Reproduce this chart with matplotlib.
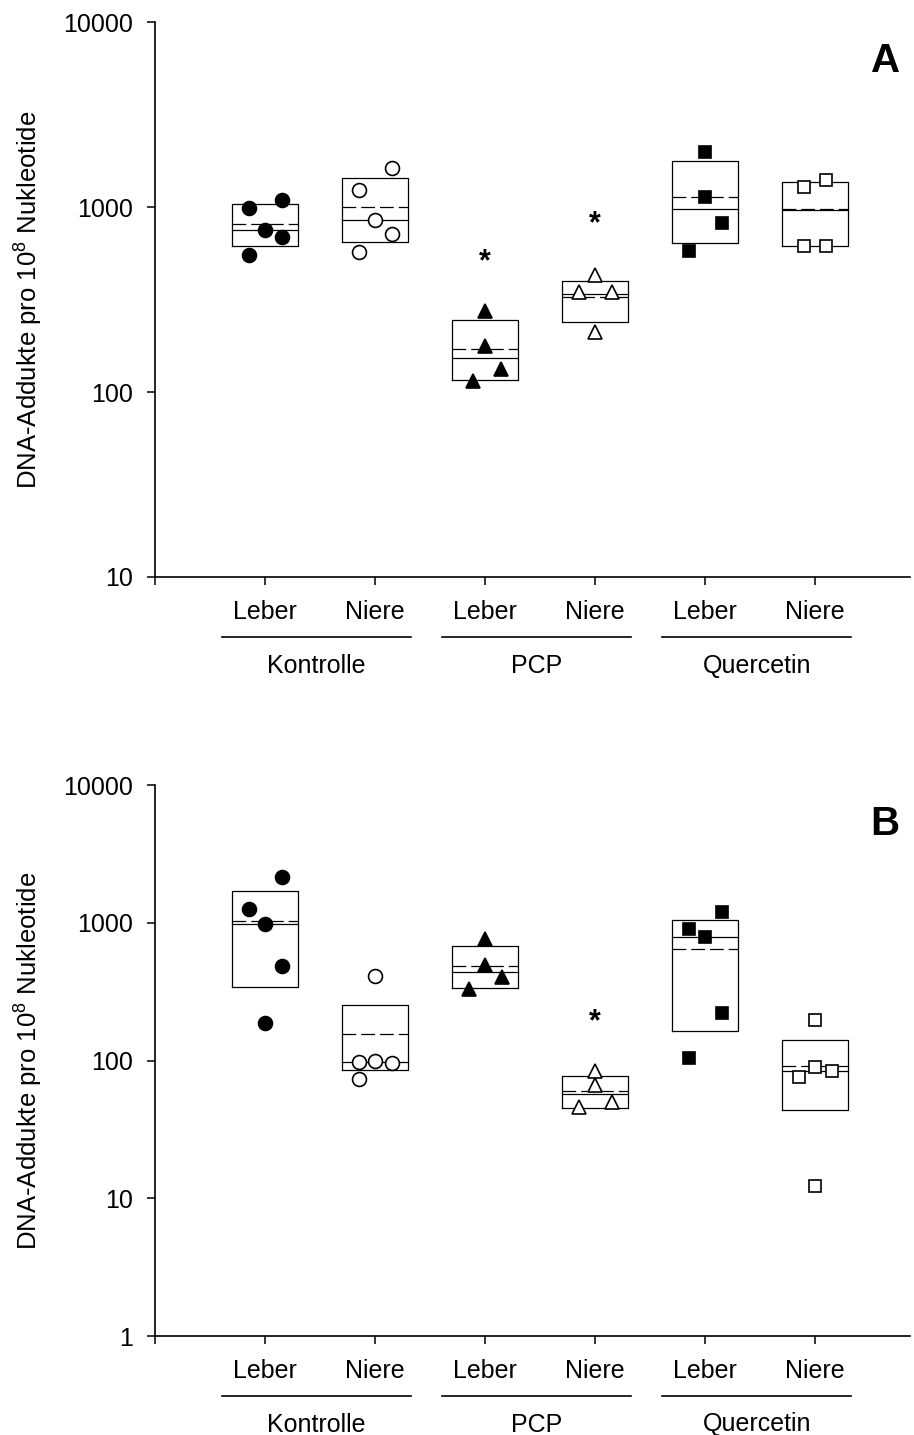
import matplotlib
matplotlib.use("Agg")
import matplotlib.pyplot as plt
from matplotlib.ticker import FixedLocator, FixedFormatter, NullLocator
import matplotlib.transforms as mtransforms

plt.rcParams['font.family'] = ['Liberation Sans', 'DejaVu Sans']
plt.rcParams['mathtext.fontset'] = 'custom'
plt.rcParams['mathtext.rm'] = 'Liberation Sans'
plt.rcParams['mathtext.it'] = 'Liberation Sans:italic'
plt.rcParams['mathtext.bf'] = 'Liberation Sans:bold'

# ---------------- data ----------------
groups = ["Kontrolle", "PCP", "Quercetin"]
organs = ["Leber", "Niere"]
ylabel = "DNA-Addukte pro 10$^{8}$ Nukleotide"

# Panel A: individual values per column (Kontrolle L/N, PCP L/N, Quercetin L/N)
a_values = [
    [990, 1087, 754, 686, 548],
    [1625, 1236, 850, 717, 571],
    [273, 177, 133, 114],
    [427, 349, 349, 212],
    [1990, 1137, 823, 578],
    [1287, 1394, 615, 615],
]
a_jitter = [
    [-0.15, 0.15, 0, 0.15, -0.15],
    [0.15, -0.15, 0, 0.15, -0.15],
    [0, 0, 0.145, -0.105],
    [0, -0.15, 0.15, 0],
    [0, 0, 0.15, -0.15],
    [-0.1, 0.1, -0.1, 0.1],
]
a_q25 = [615, 644, 116, 240, 641, 618]
a_median = [754, 850, 152, 338, 979, 960]
a_mean = [809, 1000, 170, 326, 1128, 975]
a_q75 = [1038, 1430, 244, 398, 1780, 1365]
a_star = [None, None, 553, 886, None, None]

# Panel B
b_values = [
    [2147, 1264, 978, 487, 187],
    [408, 97, 99, 96, 74],
    [762, 491, 402, 333],
    [84, 66, 50, 46],
    [1196, 894, 791, 223, 105],
    [196, 89, 84, 76, 12.2],
]
b_jitter = [
    [0.15, -0.15, 0, 0.15, 0],
    [0, -0.15, 0, 0.15, -0.15],
    [0, 0, 0.15, -0.15],
    [0, 0, 0.15, -0.15],
    [0.15, -0.15, 0, 0.15, -0.15],
    [0, 0, 0.15, -0.15, 0],
]
b_q25 = [339, 85, 337, 45, 165, 44]
b_median = [978, 98, 436, 57, 791, 84]
b_mean = [1022, 156, 482, 60, 644, 91]
b_q75 = [1687, 254, 677, 77, 1046, 142]
b_star = [None, None, None, 218, None, None]

markers = ['o', 'o', '^', '^', 's', 's']
filled = [True, False, True, False, True, False]
msizes = [10, 10, 9.8, 9.8, 8.9, 8.9]

# ---------------- figure ----------------
W, H = 914, 1435
fig = plt.figure(figsize=(W / 100, H / 100), dpi=100)

def make_axes(top_px, bottom_px):
    left = 155 / W
    width = (910 - 155) / W
    bottom = 1 - bottom_px / H
    height = (bottom_px - top_px) / H
    return fig.add_axes([left, bottom, width, height])

axA = make_axes(22, 577)
axB = make_axes(785, 1336)

def draw_panel(ax, values, jitter, q25, med, mean, q75, stars, ylim, yticks, letter):
    ax.set_yscale('log')
    ax.set_ylim(*ylim)
    ax.set_xlim(0, 755 / 110)
    half = 0.3
    star_trans = mtransforms.offset_copy(ax.transData, fig=fig, y=-8, units='dots')
    for i in range(6):
        x = i + 1
        # box
        ax.plot([x - half, x + half, x + half, x - half, x - half],
                [q25[i], q25[i], q75[i], q75[i], q25[i]],
                color='black', lw=0.9, zorder=2)
        ax.plot([x - half, x + half], [med[i], med[i]], color='black', lw=0.9, zorder=2)
        ax.plot([x - half, x + half], [mean[i], mean[i]], color='black', lw=0.9,
                linestyle=(0, (11, 4)), zorder=2)
        xs = [x + j for j in jitter[i]]
        ax.plot(xs, values[i], linestyle='none', marker=markers[i],
                markersize=msizes[i],
                markerfacecolor='black' if filled[i] else 'white',
                markeredgecolor='black', markeredgewidth=1.2, zorder=3,
                clip_on=False)
        if stars[i] is not None:
            ax.text(x, stars[i], '*', ha='center', va='center', fontsize=22,
                    fontweight='bold', zorder=4, transform=star_trans)
    for s in ['top', 'right']:
        ax.spines[s].set_visible(False)
    for s in ['left', 'bottom']:
        ax.spines[s].set_linewidth(1.2)
    ax.yaxis.set_major_locator(FixedLocator(yticks))
    ax.yaxis.set_major_formatter(FixedFormatter([str(t) for t in yticks]))
    ax.yaxis.set_minor_locator(NullLocator())
    ax.set_xticks(range(0, 7))
    ax.set_xticklabels([])
    ax.tick_params(axis='both', direction='out', length=6, width=1.1,
                   labelsize=18, pad=10)
    ax.set_ylabel(ylabel, fontsize=18.5)
    ax.yaxis.set_label_coords(-110 / 755, 0.5)
    ax.text(0.967, 0.93, letter, transform=ax.transAxes, ha='center', va='center',
            fontsize=29, fontweight='bold')

    trans = mtransforms.blended_transform_factory(ax.transData, ax.transAxes)
    hgt = ax.get_position().height * H
    def ypx(off):
        return -off / hgt
    for i in range(6):
        ax.text(i + 1, ypx(35), organs[i % 2], transform=trans, ha='center',
                va='center', fontsize=18)
    for g in range(3):
        c = 2 * g + 1.47
        ax.plot([c - 0.86, c + 0.86], [ypx(60), ypx(60)], transform=trans,
                color='black', lw=1.2, clip_on=False)
        ax.text(c, ypx(95.5), groups[g], transform=trans, ha='center',
                va='baseline', fontsize=18)

draw_panel(axA, a_values, a_jitter, a_q25, a_median, a_mean, a_q75, a_star,
           (10, 10000), [10, 100, 1000, 10000], 'A')
draw_panel(axB, b_values, b_jitter, b_q25, b_median, b_mean, b_q75, b_star,
           (1, 10000), [1, 10, 100, 1000, 10000], 'B')

fig.savefig('out.png', dpi=100)
